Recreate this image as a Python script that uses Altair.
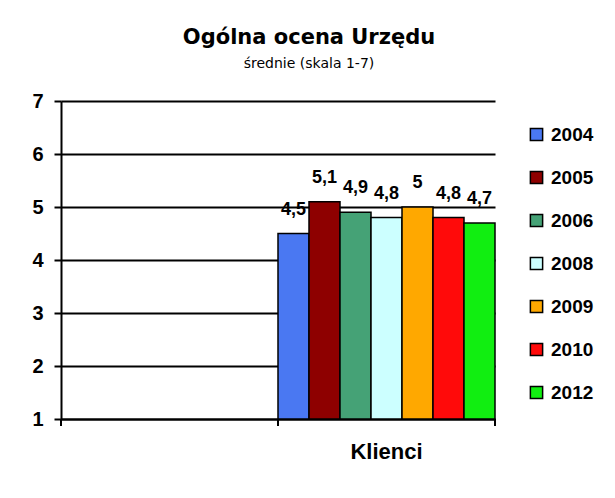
import altair as alt
import pandas as pd

categories = ["", "Klienci"]
years = ["2004", "2005", "2006", "2008", "2009", "2010", "2012"]
values = [4.5, 5.1, 4.9, 4.8, 5.0, 4.8, 4.7]
colors = ["#4A78F2", "#8E0000", "#45A276", "#CCFFFF", "#FFA800", "#FF0A0A", "#11EE11"]
y_ticks = [1, 2, 3, 4, 5, 6, 7]

df = pd.DataFrame({
    "cat": ["Klienci"] * len(years),
    "year": years,
    "value": values,
    "label": [f"{v:g}".replace(".", ",") for v in values],
})
ticks_df = pd.DataFrame({"cat": categories})
end_df = pd.DataFrame({"cat": ["Klienci"]})

W, H = 434, 318
FONT = "Liberation Sans"

xscale = alt.Scale(domain=categories, paddingInner=0, paddingOuter=0)
yscale = alt.Scale(domain=[1, 7], zero=False, nice=False)
oscale = alt.Scale(domain=years, paddingInner=0, paddingOuter=0)

bars = alt.Chart(df).mark_bar(stroke="black", strokeWidth=1.5).encode(
    x=alt.X("cat:N", scale=xscale, sort=categories,
            axis=alt.Axis(title=None, ticks=False, labelPadding=22, labelFontSize=22,
                          labelFont=FONT, labelFontWeight="bold", labelColor="black",
                          domainColor="black", domainWidth=2, labelAngle=0)),
    xOffset=alt.XOffset("year:N", scale=oscale, sort=years),
    y=alt.Y("value:Q", scale=yscale,
            axis=alt.Axis(title=None, values=y_ticks, grid=True, gridColor="black",
                          gridWidth=2, gridOpacity=1, domainColor="black", domainWidth=2,
                          tickColor="black", tickWidth=2, tickSize=7, labelPadding=11,
                          labelFontSize=20, labelFont=FONT, labelFontWeight="bold",
                          labelColor="black", format="d")),
    y2=alt.datum(1),
    color=alt.Color("year:N", sort=years,
                    scale=alt.Scale(domain=years, range=colors),
                    legend=alt.Legend(title=None, orient="none", legendX=466, legendY=24,
                                      symbolType="square", symbolSize=150,
                                      symbolStrokeColor="black", symbolStrokeWidth=1.5,
                                      symbolOpacity=1,
                                      labelFontSize=19, labelFont=FONT,
                                      labelFontWeight="bold", labelColor="black",
                                      labelOffset=5, rowPadding=23, padding=0)),
)

labels = alt.Chart(df).mark_text(
    font=FONT, fontSize=18, fontWeight="bold", color="black", baseline="bottom", dy=-15
).encode(
    x=alt.X("cat:N", scale=xscale, sort=categories),
    xOffset=alt.XOffset("year:N", scale=oscale, sort=years),
    y=alt.Y("value:Q", scale=yscale),
    text="label:N",
)

tick_marks = alt.Chart(ticks_df).mark_rule(color="black", strokeWidth=2).encode(
    x=alt.X("cat:N", scale=xscale, sort=categories, bandPosition=0),
    y=alt.value(H),
    y2=alt.value(H + 7),
)
end_tick = alt.Chart(end_df).mark_rule(color="black", strokeWidth=2).encode(
    x=alt.X("cat:N", scale=xscale, sort=categories, bandPosition=1),
    y=alt.value(H),
    y2=alt.value(H + 7),
)

chart = alt.layer(bars, labels, tick_marks, end_tick).properties(
    width=W, height=H,
    title=alt.TitleParams(
        "Ogólna ocena Urzędu",
        subtitle="średnie (skala 1-7)",
        font="DejaVu Sans", fontSize=21, fontWeight="bold", color="black",
        subtitleFont="DejaVu Sans", subtitleFontSize=14, subtitleColor="black",
        subtitlePadding=9, anchor="middle", dx=31, offset=20,
    ),
    autosize=alt.AutoSizeParams(type="none"),
    padding={"left": 53, "top": 93, "right": 110, "bottom": 60},
    background="white",
).configure_view(stroke=None)

chart.save("out.html", embed_options={"renderer": "svg", "actions": False})
